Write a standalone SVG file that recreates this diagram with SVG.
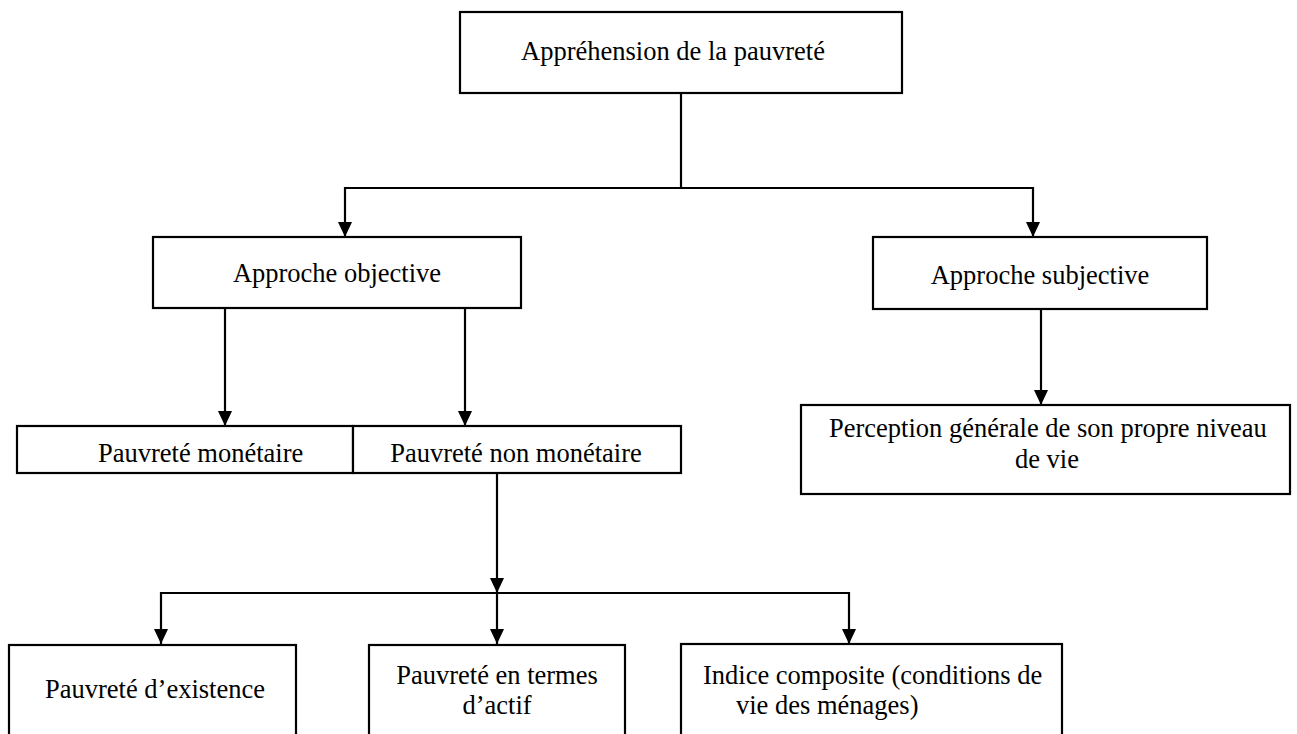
<svg xmlns="http://www.w3.org/2000/svg" width="1297" height="734" viewBox="0 0 1297 734">
<defs>
<style>
.box{fill:#fff;stroke:#000;stroke-width:2.2}
.t{font-family:"Liberation Serif","Times New Roman",serif;font-size:26.5px;fill:#000}
.c{text-anchor:middle}
.ln{fill:none;stroke:#000;stroke-width:2.2}
.ah{fill:#000}
</style>
</defs>
<rect width="1297" height="734" fill="#fff"/>
<g id="connectors">
<polyline class="ln" points="681,93 681,188"/>
<polyline class="ln" points="345,237 345,188 1033,188 1033,237"/>
<polygon class="ah" points="338,222 352,222 345,237"/>
<polygon class="ah" points="1026,222 1040,222 1033,237"/>
<polyline class="ln" points="225,308 225,426"/>
<polygon class="ah" points="218,411 232,411 225,426"/>
<polyline class="ln" points="465,308 465,426"/>
<polygon class="ah" points="458,411 472,411 465,426"/>
<polyline class="ln" points="1041,309 1041,405"/>
<polygon class="ah" points="1034,390 1048,390 1041,405"/>
<polyline class="ln" points="497,473 497,644"/>
<polygon class="ah" points="490,578 504,578 497,593"/>
<polyline class="ln" points="161,644 161,593 849,593 849,644"/>
<polygon class="ah" points="154,629 168,629 161,644"/>
<polygon class="ah" points="490,629 504,629 497,644"/>
<polygon class="ah" points="842,629 856,629 849,644"/>
</g>
<g id="n-apprehension">
<rect class="box" x="460" y="12" width="442" height="81"/>
<text class="t" x="521" y="60">Appréhension de la pauvreté</text>
</g>
<g id="n-objective">
<rect class="box" x="153" y="237" width="368" height="71"/>
<text class="t c" x="337" y="282">Approche objective</text>
</g>
<g id="n-subjective">
<rect class="box" x="873" y="237" width="334" height="72"/>
<text class="t c" x="1040" y="284">Approche subjective</text>
</g>
<g id="n-perception">
<rect class="box" x="801" y="405" width="489" height="89"/>
<text class="t" x="829" y="437">Perception générale de son propre niveau</text>
<text class="t c" x="1047" y="468">de vie</text>
</g>
<g id="n-monetaire">
<rect class="box" x="17" y="426" width="336" height="47"/>
<text class="t" x="98" y="462">Pauvreté monétaire</text>
</g>
<g id="n-nonmonetaire">
<rect class="box" x="353" y="426" width="328" height="47"/>
<text class="t c" x="516" y="462">Pauvreté non monétaire</text>
</g>
<g id="n-existence">
<rect class="box" x="9" y="645" width="287" height="100"/>
<text class="t c" x="155" y="698">Pauvreté d’existence</text>
</g>
<g id="n-actif">
<rect class="box" x="369" y="645" width="256" height="100"/>
<text class="t c" x="497" y="684">Pauvreté en termes</text>
<text class="t c" x="497" y="714">d’actif</text>
</g>
<g id="n-composite">
<rect class="box" x="681" y="644" width="381" height="100"/>
<text class="t" x="703" y="684">Indice composite (conditions de</text>
<text class="t" x="736" y="714">vie des ménages)</text>
</g>
</svg>
